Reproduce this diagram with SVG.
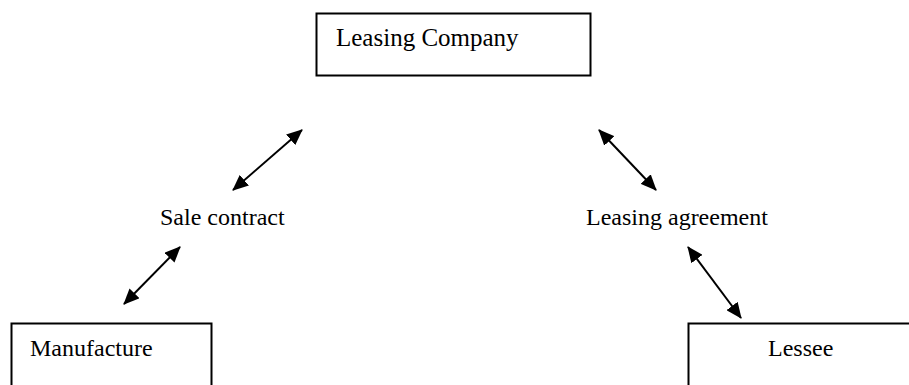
<svg xmlns="http://www.w3.org/2000/svg" width="909" height="385" viewBox="0 0 909 385">
<style>
.box{fill:#fff;stroke:#000;stroke-width:2}
.lbl{font-family:"Liberation Serif","Times New Roman",serif;font-size:24px;fill:#000}
.con{stroke:#000;stroke-width:2;fill:none;marker-start:url(#ah);marker-end:url(#ah)}
</style>
<defs>
<marker id="ah" viewBox="0 0 16 14" refX="15" refY="7" markerWidth="16" markerHeight="14" markerUnits="userSpaceOnUse" orient="auto-start-reverse">
<path d="M0,0 L16,7 L0,14 z" fill="#000"/>
</marker>
</defs>
<rect width="909" height="385" fill="#fff"/>
<g id="leasing-company">
<rect class="box" x="316.5" y="13.5" width="274" height="62"/>
<text class="lbl" x="336" y="46" style="font-size:25px">Leasing Company</text>
</g>
<g id="sale-contract">
<text class="lbl" x="160" y="225">Sale contract</text>
</g>
<g id="leasing-agreement">
<text class="lbl" x="586" y="225">Leasing agreement</text>
</g>
<g id="manufacture">
<path class="box" d="M11.5,386 V323.5 H211.5 V386"/>
<text class="lbl" x="30" y="356">Manufacture</text>
</g>
<g id="lessee">
<path class="box" d="M688.5,386 V323.5 H912"/>
<text class="lbl" x="768" y="356">Lessee</text>
</g>
<g id="connectors">
<line class="con" x1="233" y1="190" x2="302" y2="130"/>
<line class="con" x1="599" y1="130" x2="656" y2="190"/>
<line class="con" x1="124" y1="304" x2="180" y2="247"/>
<line class="con" x1="688" y1="247" x2="741" y2="318"/>
</g>
</svg>
